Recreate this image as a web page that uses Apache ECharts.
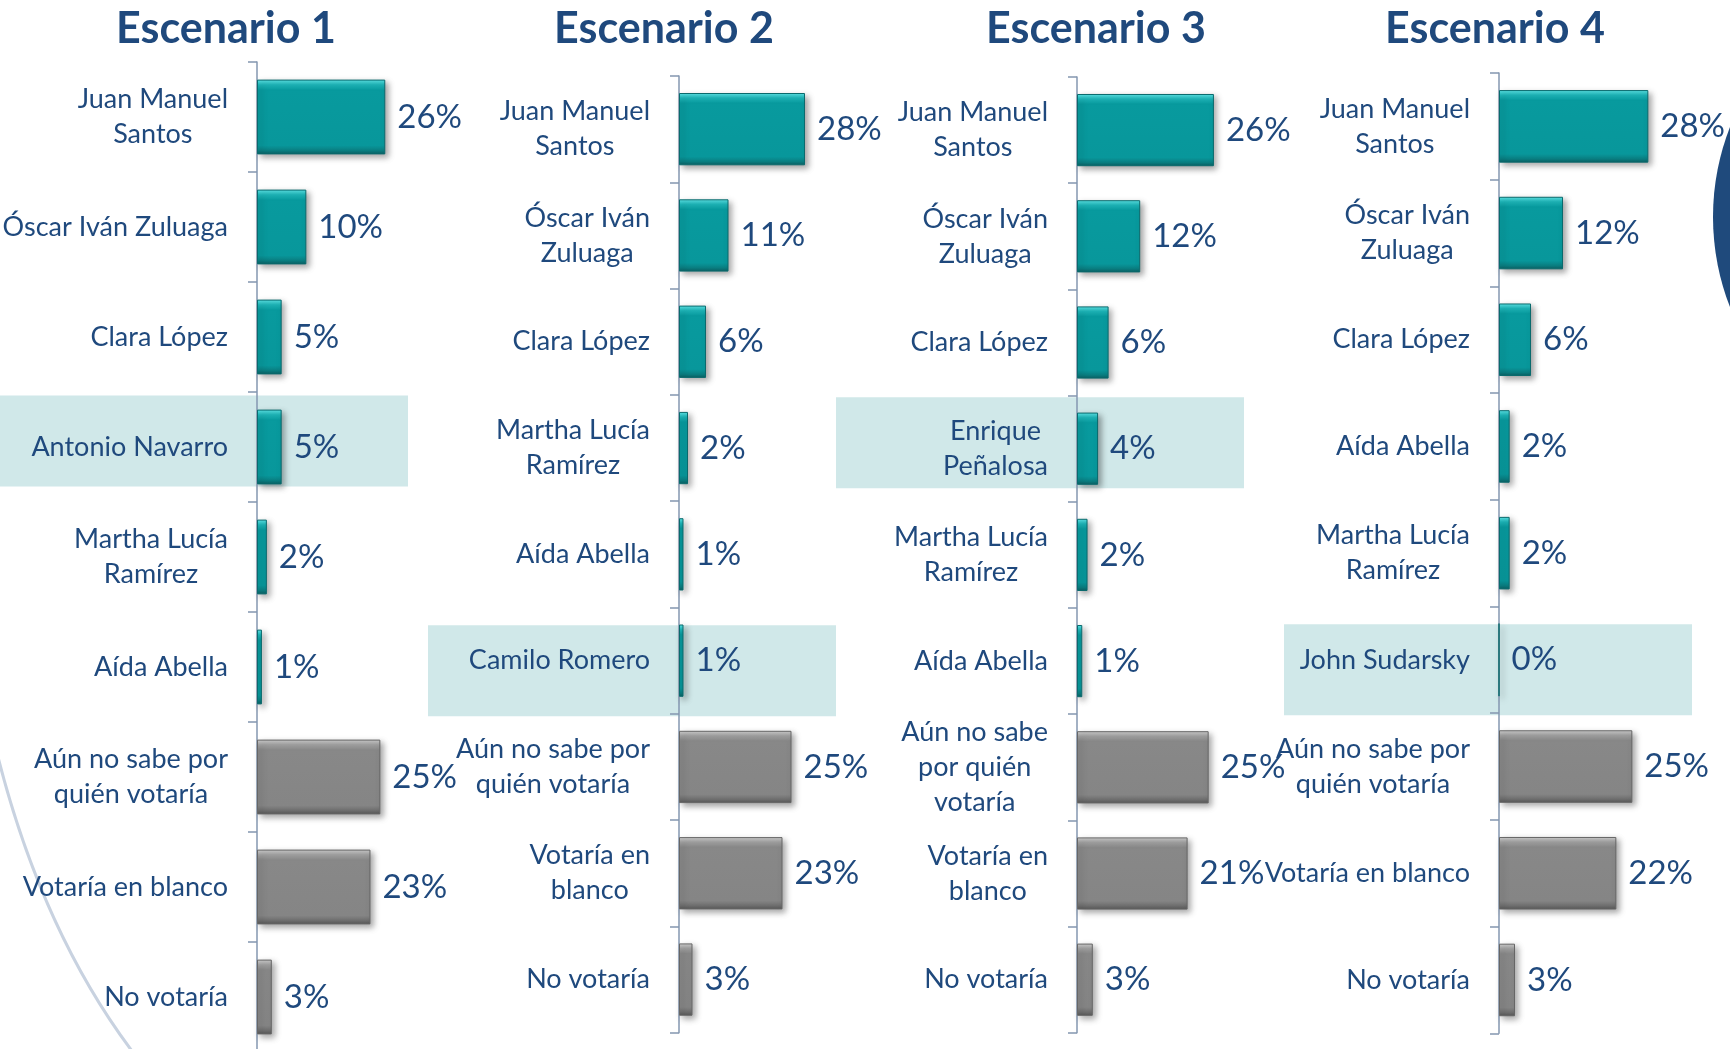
<!DOCTYPE html>
<html>
<head>
<meta charset="utf-8">
<title>Escenarios</title>
<script src="https://cdn.jsdelivr.net/npm/echarts@6/dist/echarts.min.js"></script>
<style>
  html, body { margin: 0; padding: 0; background: #fff; }
  #chart { width: 1730px; height: 1049px; }
</style>
</head>
<body>
<div id="chart"></div>
<script>
// datos de cada escenario
const titles = ['Escenario 1', 'Escenario 2', 'Escenario 3', 'Escenario 4']

const cats1 = ['Juan Manuel\nSantos', 'Óscar Iván Zuluaga', 'Clara López', 'Antonio Navarro', 'Martha Lucía\nRamírez', 'Aída Abella', 'Aún no sabe por\nquién votaría', 'Votaría en blanco', 'No votaría']
const vals1 = [26, 10, 5, 5, 2, 1, 25, 23, 3]

const cats2 = ['Juan Manuel\nSantos', 'Óscar Iván\nZuluaga', 'Clara López', 'Martha Lucía\nRamírez', 'Aída Abella', 'Camilo Romero', 'Aún no sabe por\nquién votaría', 'Votaría en\nblanco', 'No votaría']
const vals2 = [28, 11, 6, 2, 1, 1, 25, 23, 3]

const cats3 = ['Juan Manuel\nSantos', 'Óscar Iván\nZuluaga', 'Clara López', 'Enrique\nPeñalosa', 'Martha Lucía\nRamírez', 'Aída Abella', 'Aún no sabe\npor quién\nvotaría', 'Votaría en\nblanco', 'No votaría']
const vals3 = [26, 12, 6, 4, 2, 1, 25, 21, 3]

const cats4 = ['Juan Manuel\nSantos', 'Óscar Iván\nZuluaga', 'Clara López', 'Aída Abella', 'Martha Lucía\nRamírez', 'John Sudarsky', 'Aún no sabe por\nquién votaría', 'Votaría en blanco', 'No votaría']
const vals4 = [28, 12, 6, 2, 2, 0, 25, 22, 3]

// candidato nuevo de cada escenario (fila resaltada)
const highlighted = ['Antonio Navarro', 'Camilo Romero', 'Enrique\nPeñalosa', 'John Sudarsky']

const allCats = [cats1, cats2, cats3, cats4]
const allVals = [vals1, vals2, vals3, vals4]

// posiciones en pixeles de cada panel
const panels = [
  { left: 257, top: 62, rowH: 110, width: 148, titleX: 226, bandX: 0, bandDy: -6 },
  { left: 679, top: 76, rowH: 106.3, width: 135, titleX: 664, bandX: 428, bandDy: 10 },
  { left: 1077, top: 77, rowH: 106.2, width: 158, titleX: 1096, bandX: 836, bandDy: -6 },
  { left: 1499, top: 73, rowH: 106.7, width: 160, titleX: 1495, bandX: 1284, bandDy: 10 }
]

const textColor = '#1F497D'
const font = 'Lato'

const tealStyle = {
  color: {
    type: 'linear', x: 0, y: 0, x2: 0, y2: 1,
    colorStops: [
      { offset: 0, color: '#5FE6E8' },
      { offset: 0.07, color: '#1DB6B9' },
      { offset: 0.14, color: '#089A9E' },
      { offset: 0.88, color: '#08979B' },
      { offset: 0.95, color: '#0A7E81' },
      { offset: 1, color: '#0B5F62' }
    ]
  },
  borderColor: '#0A6A6D',
  borderWidth: 1,
  shadowColor: 'rgba(0,0,0,0.35)',
  shadowBlur: 6,
  shadowOffsetX: 3,
  shadowOffsetY: 3
}

const grayStyle = {
  color: {
    type: 'linear', x: 0, y: 0, x2: 0, y2: 1,
    colorStops: [
      { offset: 0, color: '#D0D0D0' },
      { offset: 0.07, color: '#A2A2A2' },
      { offset: 0.14, color: '#888888' },
      { offset: 0.88, color: '#858585' },
      { offset: 0.95, color: '#6E6E6E' },
      { offset: 1, color: '#575757' }
    ]
  },
  borderColor: '#666666',
  borderWidth: 1,
  shadowColor: 'rgba(0,0,0,0.35)',
  shadowBlur: 6,
  shadowOffsetX: 3,
  shadowOffsetY: 3
}

const chart = echarts.init(document.getElementById('chart'))

const grid = panels.map(p => ({
  left: p.left,
  top: p.top,
  width: p.width,
  height: p.rowH * 9,
  containLabel: false,
  outerBoundsMode: 'none'
}))

const xAxis = panels.map((p, i) => ({
  type: 'value',
  gridIndex: i,
  min: 0,
  max: 30,
  show: false
}))

const yAxis = panels.map((p, i) => ({
  type: 'category',
  gridIndex: i,
  inverse: true,
  data: allCats[i],
  axisLine: { show: true, lineStyle: { color: '#8497B0', width: 1.5 } },
  axisTick: { show: true, length: 9, lineStyle: { color: '#8497B0', width: 1.5 } },
  splitLine: { show: false },
  axisLabel: {
    interval: 0,
    margin: 29,
    color: textColor,
    fontSize: 27,
    fontFamily: font,
    lineHeight: 35,
    formatter: v => v.split('\n').map(s => '{c|' + s + '}').join('\n'),
    rich: {
      c: { align: 'center', color: textColor, fontSize: 27, fontFamily: font, lineHeight: 35 }
    }
  }
}))

const series = allVals.map((vals, i) => ({
  type: 'bar',
  xAxisIndex: i,
  yAxisIndex: i,
  barWidth: '68%',
  data: vals.map((v, j) => ({
    value: v,
    itemStyle: j >= 6 ? grayStyle : tealStyle
  })),
  label: {
    show: true,
    position: 'right',
    distance: 12,
    formatter: '{c}%',
    color: textColor,
    fontSize: 33,
    fontFamily: font
  }
}))

const title = titles.map((t, i) => ({
  text: t,
  left: panels[i].titleX,
  top: 8,
  padding: 0,
  textAlign: 'center',
  textStyle: { color: textColor, fontSize: 43, fontWeight: 'bold', fontFamily: font, lineHeight: 43 }
}))

chart.setOption({
  backgroundColor: '#ffffff',
  animation: false,
  title,
  grid,
  xAxis,
  yAxis,
  series
})

// fondo: franjas resaltadas y adornos de la diapositiva
const graphic = [
  {
    type: 'bezierCurve',
    z: -2,
    shape: { x1: -5, y1: 745, cpx1: 40, cpy1: 930, x2: 135, y2: 1055 },
    style: { stroke: '#C8D2E0', lineWidth: 3, fill: null }
  },
  {
    type: 'circle',
    z: -2,
    shape: { cx: 1960, cy: 217, r: 247 },
    style: { fill: '#1F4A7C' }
  }
]
highlighted.forEach((name, i) => {
  const p = panels[i]
  const cy = chart.convertToPixel({ yAxisIndex: i }, name)
  graphic.push({
    type: 'rect',
    z: -1,
    shape: { x: p.bandX, y: cy + p.bandDy - 45.5, width: 408, height: 91 },
    style: { fill: '#D0E8E9' }
  })
})
chart.setOption({ graphic })
</script>
</body>
</html>
